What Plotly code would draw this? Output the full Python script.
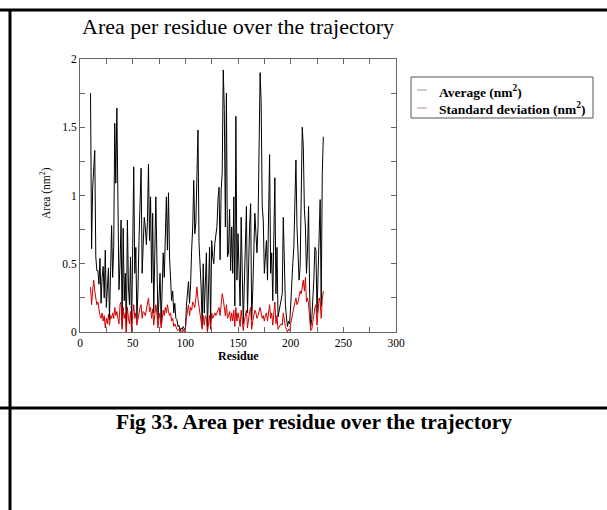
import plotly.graph_objects as go

# ---------------- data ----------------
residues = list(range(10, 232))

average_nm2 = [
    1.75, 0.61, 1.05, 1.25, 1.33, 0.55, 0.45, 0.45, 0.35, 0.54,   # 10-19
    0.21, 0.40, 0.48, 0.25, 0.60, 0.18, 0.35, 0.47, 0.09, 0.45,   # 20-29
    0.78, 0.40, 0.62, 1.53, 1.09, 1.64, 1.04, 0.31, 0.50, 0.82,   # 30-39
    0.04, 0.76, 0.23, 0.43, 0.00, 0.82, 0.33, 0.20, 0.55, 0.02,   # 40-49
    0.60, 1.21, 0.43, 0.62, 0.09, 0.30, 0.67, 1.06, 1.20, 0.43,   # 50-59
    0.70, 0.84, 0.77, 0.64, 0.80, 1.23, 0.67, 0.99, 0.36, 0.87,   # 60-69
    0.14, 0.55, 0.99, 0.55, 0.09, 0.25, 0.43, 0.06, 0.30, 0.58,   # 70-79
    0.40, 0.70, 0.99, 0.60, 1.02, 0.55, 0.40, 0.23, 0.30, 0.14,   # 80-89
    0.21, 0.10, 0.09, 0.04, 0.05, 0.01, 0.03, 0.02, 0.04, 0.02,   # 90-99
    0.01, 0.19, 0.30, 0.37, 0.21, 0.35, 0.60, 0.77, 1.11, 0.72,   # 100-109
    0.80, 1.06, 1.48, 0.65, 0.50, 0.33, 0.04, 0.50, 0.14, 0.43,   # 110-119
    0.58, 0.01, 0.30, 0.62, 0.04, 0.67, 0.55, 0.50, 0.65, 0.70,   # 120-129
    0.77, 0.97, 1.06, 0.53, 1.04, 1.16, 1.92, 1.63, 0.77, 1.75,   # 130-139
    0.55, 0.58, 0.90, 0.45, 0.77, 0.43, 0.99, 0.19, 1.58, 0.38,   # 140-149
    0.72, 0.45, 0.19, 0.84, 0.40, 0.06, 0.35, 0.70, 0.92, 0.14,   # 150-159
    0.55, 0.77, 0.94, 0.09, 0.30, 0.58, 0.87, 0.72, 0.58, 0.77,   # 160-169
    1.21, 1.90, 1.68, 0.92, 0.82, 0.43, 0.55, 0.67, 0.38, 0.77,   # 170-179
    1.30, 0.43, 0.58, 0.23, 0.70, 1.13, 0.28, 0.62, 0.11, 0.15,   # 180-189
    0.19, 0.25, 0.28, 0.84, 0.43, 0.20, 0.11, 0.04, 0.08, 0.06,   # 190-199
    0.19, 0.43, 0.50, 0.62, 1.11, 1.26, 0.77, 0.50, 0.38, 0.48,   # 200-209
    1.11, 1.50, 1.36, 0.90, 0.77, 0.43, 0.60, 0.92, 0.28, 0.04,   # 210-219
    0.09, 0.20, 0.38, 0.62, 0.60, 0.14, 0.43, 0.60, 0.97, 0.19,   # 220-229
    1.16, 1.43,                                                   # 230-231
]

std_dev_nm2 = [
    0.33, 0.20, 0.30, 0.38, 0.30, 0.25, 0.20, 0.22, 0.15, 0.12,   # 10-19
    0.10, 0.14, 0.08, 0.12, 0.03, 0.10, 0.06, 0.13, 0.05, 0.12,   # 20-29
    0.10, 0.14, 0.10, 0.18, 0.12, 0.15, 0.10, 0.06, 0.20, 0.22,   # 30-39
    0.02, 0.18, 0.10, 0.14, 0.00, 0.18, 0.10, 0.06, 0.15, 0.00,   # 40-49
    0.12, 0.20, 0.10, 0.14, 0.05, 0.10, 0.15, 0.18, 0.20, 0.10,   # 50-59
    0.15, 0.14, 0.12, 0.16, 0.20, 0.25, 0.15, 0.18, 0.10, 0.17,   # 60-69
    0.05, 0.12, 0.20, 0.14, 0.03, 0.10, 0.14, 0.03, 0.10, 0.16,   # 70-79
    0.12, 0.18, 0.14, 0.20, 0.15, 0.12, 0.14, 0.08, 0.10, 0.04,   # 80-89
    0.06, 0.03, 0.02, 0.01, 0.02, 0.00, 0.01, 0.00, 0.02, 0.00,   # 90-99
    0.01, 0.10, 0.15, 0.20, 0.12, 0.18, 0.16, 0.22, 0.20, 0.18,   # 100-109
    0.25, 0.33, 0.24, 0.18, 0.15, 0.10, 0.02, 0.12, 0.05, 0.12,   # 110-119
    0.10, 0.00, 0.08, 0.12, 0.02, 0.14, 0.10, 0.12, 0.14, 0.12,   # 120-129
    0.15, 0.16, 0.18, 0.12, 0.20, 0.28, 0.24, 0.18, 0.12, 0.20,   # 130-139
    0.10, 0.12, 0.15, 0.08, 0.14, 0.08, 0.16, 0.04, 0.18, 0.08,   # 140-149
    0.14, 0.10, 0.04, 0.16, 0.08, 0.01, 0.08, 0.14, 0.16, 0.03,   # 150-159
    0.12, 0.15, 0.18, 0.02, 0.08, 0.12, 0.16, 0.14, 0.10, 0.12,   # 160-169
    0.16, 0.18, 0.14, 0.10, 0.12, 0.08, 0.12, 0.14, 0.08, 0.15,   # 170-179
    0.20, 0.10, 0.14, 0.05, 0.14, 0.22, 0.06, 0.12, 0.02, 0.04,   # 180-189
    0.05, 0.06, 0.05, 0.14, 0.08, 0.04, 0.02, 0.00, 0.02, 0.01,   # 190-199
    0.06, 0.12, 0.14, 0.18, 0.22, 0.25, 0.20, 0.22, 0.26, 0.30,   # 200-209
    0.28, 0.34, 0.38, 0.30, 0.40, 0.22, 0.25, 0.20, 0.08, 0.01,   # 210-219
    0.02, 0.06, 0.12, 0.18, 0.20, 0.05, 0.14, 0.25, 0.22, 0.10,   # 220-229
    0.24, 0.30,                                                   # 230-231
]

x_tick_values = [0, 50, 100, 150, 200, 250, 300]
y_tick_values = [0, 0.5, 1, 1.5, 2]
y_tick_labels = ["0", "0.5", "1", "1.5", "2"]

title_text = "Area per residue over the trajectory"
x_title = "Residue"
y_title = "Area (nm<sup>2</sup>)"
legend_labels = ["Average (nm<sup>2</sup>)", "Standard deviation (nm<sup>2</sup>)"]
caption_text = "Fig 33. Area per residue over the trajectory"

# ---------------- layout geometry (pixels) ----------------
W, H = 607, 510
PL, PR, PT, PB = 80, 396, 59, 332


def px(x):
    return (x - PL) / (PR - PL)


def py(y):
    return (PB - y) / (PB - PT)


SERIF = "Liberation Serif, Times New Roman, serif"

fig = go.Figure()
fig.add_trace(go.Scatter(x=residues, y=average_nm2, mode="lines",
                         line=dict(color="black", width=1), showlegend=False,
                         name="Average (nm²)"))
fig.add_trace(go.Scatter(x=residues, y=std_dev_nm2, mode="lines",
                         line=dict(color="#d40000", width=1), showlegend=False,
                         name="Standard deviation (nm²)"))

axis_common = dict(showline=True, linecolor="#666", linewidth=1, mirror="ticks",
                   ticks="inside", ticklen=5, tickwidth=1, tickcolor="#666",
                   showgrid=False, zeroline=False,
                   tickfont=dict(family=SERIF, size=11.5, color="black"))

fig.update_xaxes(range=[0, 300], tickvals=x_tick_values,
                 minor=dict(dtick=25, ticks="inside", ticklen=5, tickcolor="#666", showgrid=False),
                 **axis_common)
fig.update_yaxes(range=[0, 2], tickvals=y_tick_values, ticktext=y_tick_labels,
                 minor=dict(dtick=0.25, ticks="inside", ticklen=5, tickcolor="#666", showgrid=False),
                 **axis_common)

annotations = [
    dict(text=title_text, x=px(238), y=py(27), font=dict(family=SERIF, size=22, color="black")),
    dict(text="<b>" + x_title + "</b>", x=px(238), y=py(356),
         font=dict(family=SERIF, size=12, color="black")),
    dict(text=y_title, x=px(45), y=py(193), textangle=-90,
         font=dict(family=SERIF, size=11.5, color="black")),
    dict(text="<b>" + caption_text + "</b>", x=px(313.5), y=py(422),
         font=dict(family=SERIF, size=21.5, color="black")),
    dict(text="<b>" + legend_labels[0] + "</b>", x=px(437), y=py(91), xanchor="left",
         font=dict(family=SERIF, size=13.5, color="black")),
    dict(text="<b>" + legend_labels[1] + "</b>", x=px(437), y=py(108), xanchor="left",
         font=dict(family=SERIF, size=13.5, color="black")),
]
for a in annotations:
    a.setdefault("xanchor", "center")
    a.update(xref="paper", yref="paper", yanchor="middle", showarrow=False)

shapes = [
    # page/table rules
    dict(type="line", x0=px(0), x1=px(W), y0=py(10), y1=py(10), line=dict(color="black", width=3)),
    dict(type="line", x0=px(0), x1=px(W), y0=py(408), y1=py(408), line=dict(color="black", width=3)),
    dict(type="line", x0=px(10), x1=px(10), y0=py(9), y1=py(H + 2), line=dict(color="black", width=3)),
    # legend box and keys
    dict(type="rect", x0=px(411), x1=px(593), y0=py(77), y1=py(118),
         line=dict(color="#555", width=1)),
    dict(type="line", x0=px(417), x1=px(427), y0=py(90), y1=py(90),
         line=dict(color="#999", width=1)),
    dict(type="line", x0=px(417), x1=px(427), y0=py(108), y1=py(108),
         line=dict(color="#b89090", width=1)),
]
for s in shapes:
    s.update(xref="paper", yref="paper")

fig.update_layout(width=W, height=H, autosize=False,
                  margin=dict(l=PL, r=W - PR, t=PT, b=H - PB, pad=0),
                  paper_bgcolor="white", plot_bgcolor="white",
                  annotations=annotations, shapes=shapes, showlegend=False)

fig.write_html("out.html", config={"displayModeBar": False},
               post_script="document.body.style.margin='0';document.body.style.overflow='hidden';")
